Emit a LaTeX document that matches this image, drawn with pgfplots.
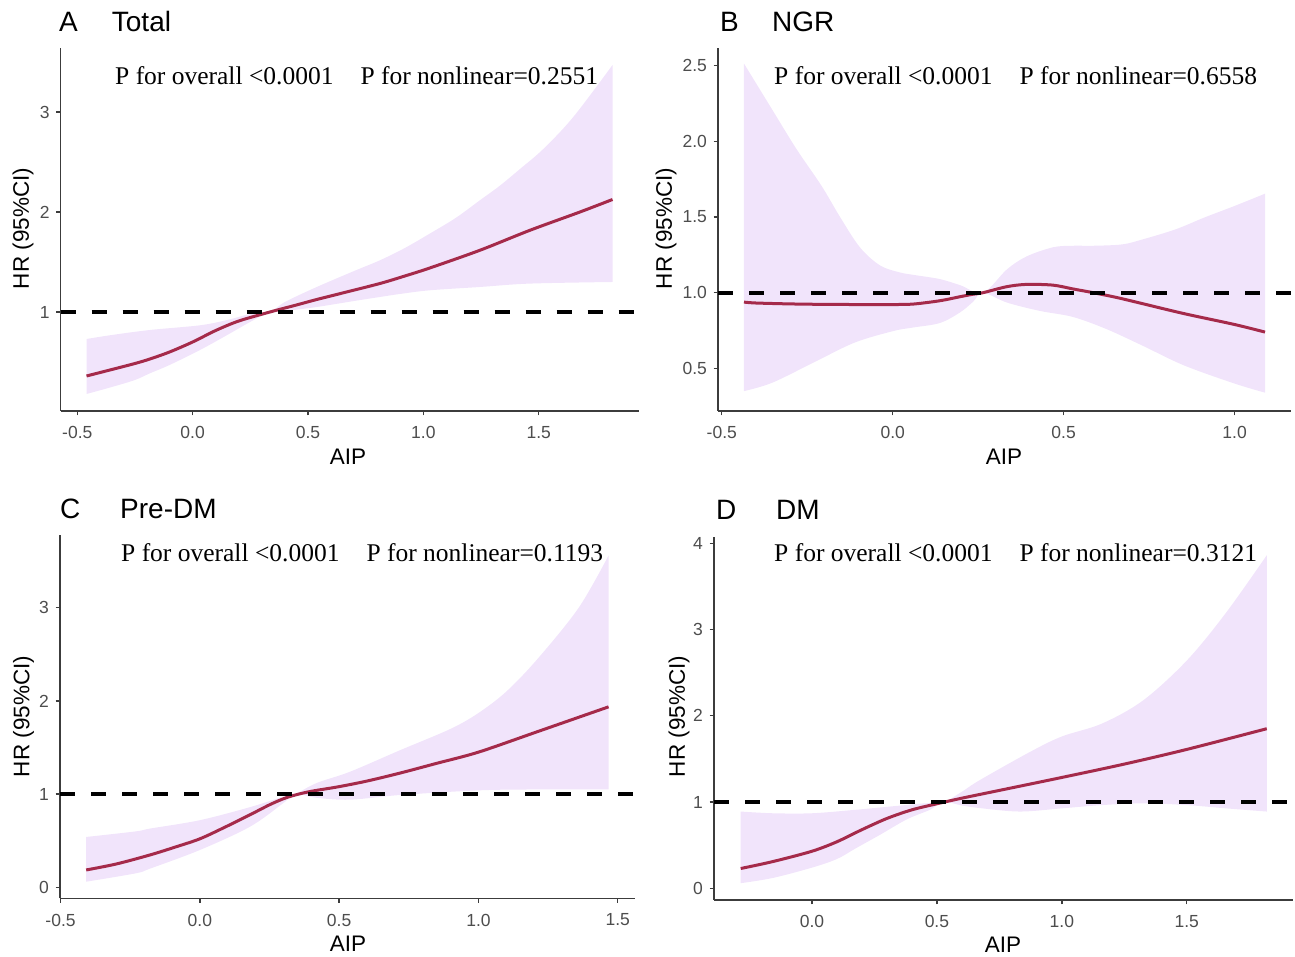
\documentclass[border=0pt]{standalone}
\usepackage{pgfplots}
\pgfplotsset{compat=1.18}
\usepgfplotslibrary{fillbetween}
\usepackage{fontspec}
\setmainfont{Liberation Sans}
\newfontfamily\serif{Liberation Serif}
\definecolor{band}{HTML}{F1E4FB}
\definecolor{curve}{HTML}{A52A4A}
\definecolor{axc}{HTML}{3C3C3C}
\definecolor{tickc}{HTML}{4D4D4D}
\pgfplotsset{rcs/.style={
  scale only axis, axis lines=left, axis line style={-, axc, line width=1.4pt},
  tick align=outside, major tick length=4.5pt, tick style={axc, line width=1.3pt},
  tick label style={font=\fontsize{17.5}{18}\selectfont, text=tickc, inner sep=0pt},
  xticklabel style={anchor=north, yshift=-10.8pt},
  yticklabel style={anchor=east, xshift=-6.4pt},
  enlargelimits=false, clip=true,
}}
\pgfplotsset{
  edge/.style={draw=none, smooth, tension=0.55},
  curvest/.style={curve, line width=3pt, smooth},
  hl/.style={black, line width=4pt, dash pattern=on 15pt off 16pt},
}
\newcommand{\ttl}[1]{\fontsize{28}{30}\selectfont #1}
\newcommand{\ptext}[2]{\serif\fontsize{25.5}{27}\selectfont P for overall <0.0001\hspace{27pt}P for nonlinear=#2}
\begin{document}
\begin{tikzpicture}
\path (0,0) rectangle (1295pt,957pt);
% Panel A
\begin{axis}[rcs, at={(60.7pt,546pt)}, anchor=south west, width=578.1pt, height=363pt,
  xmin=-0.572, xmax=1.934, ymin=0.01, ymax=3.64,
  xtick={-0.5,0,0.5,1,1.5}, xticklabels={-0.5,0.0,0.5,1.0,1.5},
  ytick={1,2,3}, yticklabels={1,2,3}]
\addplot[edge, name path=au] coordinates {
(-0.46,0.73) (-0.35,0.77) (-0.185,0.82) (0.032,0.867) (0.15,0.92) (0.249,0.98) (0.335,1.00) (0.40,1.10) (0.538,1.25) (0.70,1.41) (0.812,1.517) (0.92,1.64) (1.028,1.784) (1.14,1.94) (1.245,2.117) (1.33,2.26) (1.419,2.43) (1.52,2.63) (1.65,2.95) (1.82,3.47)};
\addplot[edge, name path=al] coordinates {
(-0.46,0.18) (-0.35,0.25) (-0.25,0.32) (-0.185,0.387) (-0.10,0.47) (0.032,0.62) (0.15,0.77) (0.249,0.90) (0.335,1.00) (0.40,1.01) (0.538,1.05) (0.70,1.11) (0.812,1.15) (0.898,1.18) (1.028,1.217) (1.245,1.25) (1.462,1.284) (1.82,1.30)};
\addplot[fill=band, draw=none] fill between[of=au and al];
\addplot[curvest] coordinates {
(-0.46,0.36) (-0.35,0.425) (-0.25,0.485) (-0.185,0.53) (-0.10,0.60) (0.0,0.70) (0.10,0.815) (0.20,0.91) (0.335,1.00) (0.45,1.07) (0.538,1.125) (0.65,1.19) (0.812,1.285) (0.92,1.36) (1.028,1.44) (1.245,1.617) (1.462,1.817) (1.679,2.0) (1.82,2.125)};
\addplot[hl] coordinates {(-0.572,1) (1.934,1)};
\end{axis}
% Panel B
\begin{axis}[rcs, at={(718pt,546pt)}, anchor=south west, width=573pt, height=363pt,
  xmin=-0.511, xmax=1.165, ymin=0.219, ymax=2.616,
  xtick={-0.5,0,0.5,1}, xticklabels={-0.5,0.0,0.5,1.0},
  ytick={0.5,1,1.5,2,2.5}, yticklabels={0.5,1.0,1.5,2.0,2.5}]
\addplot[edge, name path=bu] coordinates {
(-0.435,2.513) (-0.353,2.211) (-0.281,1.947) (-0.208,1.705) (-0.154,1.50) (-0.096,1.30) (-0.037,1.18) (0.021,1.134) (0.069,1.115) (0.138,1.09) (0.197,1.05) (0.264,1.0) (0.334,1.154) (0.392,1.24) (0.469,1.30) (0.527,1.31) (0.587,1.31) (0.671,1.319) (0.731,1.352) (0.828,1.419) (0.912,1.497) (1.0,1.573) (1.089,1.654)};
\addplot[edge, name path=bl] coordinates {
(-0.435,0.350) (-0.353,0.405) (-0.233,0.537) (-0.112,0.670) (0.002,0.747) (0.059,0.77) (0.138,0.80) (0.197,0.87) (0.235,0.94) (0.264,1.0) (0.334,0.935) (0.43,0.88) (0.527,0.84) (0.625,0.76) (0.731,0.65) (0.852,0.52) (1.0,0.40) (1.089,0.34)};
\addplot[fill=band, draw=none] fill between[of=bu and bl];
\addplot[curvest] coordinates {
(-0.435,0.938) (-0.40,0.932) (-0.30,0.926) (-0.20,0.923) (-0.10,0.922) (0.0,0.922) (0.06,0.925) (0.138,0.947) (0.20,0.975) (0.235,0.99) (0.264,1.0) (0.334,1.04) (0.392,1.055) (0.469,1.05) (0.527,1.025) (0.587,1.0) (0.656,0.968) (0.723,0.932) (0.852,0.862) (1.0,0.79) (1.089,0.74)};
\addplot[hl] coordinates {(-0.511,1) (1.165,1)};
\end{axis}
% Panel C
\begin{axis}[rcs, at={(60pt,58.7pt)}, anchor=south west, width=575pt, height=363.3pt,
  xmin=-0.502, xmax=1.562, ymin=-0.118, ymax=3.78,
  xtick={-0.5,0,0.5,1,1.5}, xticklabels={-0.5,0.0,0.5,1.0,1.5},
  ytick={0,1,2,3}, yticklabels={0,1,2,3}]
\addplot[edge, name path=cu] coordinates {
(-0.408,0.54) (-0.23,0.60) (-0.179,0.63) (0.0,0.72) (0.18,0.86) (0.298,0.97) (0.342,1.0) (0.42,1.12) (0.539,1.24) (0.718,1.47) (0.9,1.70) (1.0,1.87) (1.1,2.10) (1.212,2.45) (1.36,3.0) (1.467,3.56)};
\addplot[edge, name path=cl] coordinates {
(-0.408,0.06) (-0.23,0.15) (-0.179,0.20) (0.0,0.40) (0.18,0.65) (0.298,0.90) (0.342,1.0) (0.42,0.96) (0.539,0.94) (0.718,0.99) (1.0,1.04) (1.212,1.05) (1.467,1.05)};
\addplot[fill=band, draw=none] fill between[of=cu and cl];
\addplot[curvest] coordinates {
(-0.408,0.186) (-0.30,0.25) (-0.179,0.347) (-0.09,0.43) (0.0,0.52) (0.09,0.645) (0.18,0.778) (0.25,0.885) (0.30,0.95) (0.342,0.99) (0.40,1.03) (0.50,1.08) (0.60,1.14) (0.718,1.225) (0.85,1.33) (1.0,1.45) (1.212,1.67) (1.467,1.936)};
\addplot[hl] coordinates {(-0.502,1) (1.562,1)};
\end{axis}
% Panel D
\begin{axis}[rcs, at={(714pt,57pt)}, anchor=south west, width=579pt, height=363.3pt,
  xmin=-0.392, xmax=1.925, ymin=-0.135, ymax=4.075,
  xtick={0,0.5,1,1.5}, xticklabels={0.0,0.5,1.0,1.5},
  ytick={0,1,2,3,4}, yticklabels={0,1,2,3,4}]
\addplot[edge, name path=du] coordinates {
(-0.285,0.89) (-0.157,0.87) (0.0,0.87) (0.173,0.91) (0.338,0.955) (0.45,0.985) (0.527,1.0) (0.60,1.12) (0.672,1.255) (0.872,1.58) (1.0,1.76) (1.161,1.91) (1.326,2.18) (1.5,2.64) (1.656,3.19) (1.82,3.86)};
\addplot[edge, name path=dl] coordinates {
(-0.285,0.06) (-0.157,0.12) (0.0,0.24) (0.1,0.34) (0.173,0.46) (0.272,0.62) (0.38,0.80) (0.472,0.91) (0.527,1.0) (0.60,0.96) (0.672,0.93) (0.832,0.89) (1.0,0.927) (1.161,0.965) (1.326,0.985) (1.5,0.965) (1.656,0.927) (1.82,0.89)};
\addplot[fill=band, draw=none] fill between[of=du and dl];
\addplot[curvest] coordinates {
(-0.285,0.23) (-0.157,0.31) (0.0,0.43) (0.1,0.54) (0.2,0.68) (0.3,0.81) (0.4,0.91) (0.5,0.98) (0.6,1.045) (0.75,1.135) (1.0,1.285) (1.25,1.44) (1.5,1.61) (1.82,1.85)};
\addplot[hl] coordinates {(-0.392,1) (1.925,1)};
\end{axis}
% titles
\node[anchor=base west, inner sep=0pt] at (59pt,925pt) {\ttl{A}};
\node[anchor=base west, inner sep=0pt] at (111.7pt,925pt) {\ttl{Total}};
\node[anchor=base west, inner sep=0pt] at (720pt,925pt) {\ttl{B}};
\node[anchor=base west, inner sep=0pt] at (772pt,925pt) {\ttl{NGR}};
\node[anchor=base west, inner sep=0pt] at (60pt,438.7pt) {\ttl{C}};
\node[anchor=base west, inner sep=0pt] at (120pt,438.7pt) {\ttl{Pre-DM}};
\node[anchor=base west, inner sep=0pt] at (716pt,437.7pt) {\ttl{D}};
\node[anchor=base west, inner sep=0pt] at (776pt,437.7pt) {\ttl{DM}};
% P texts
\node[anchor=base west, inner sep=0pt] at (115pt,872.5pt) {\ptext{A}{0.2551}};
\node[anchor=base west, inner sep=0pt] at (774pt,872.5pt) {\ptext{B}{0.6558}};
\node[anchor=base west, inner sep=0pt] at (121pt,395pt) {\ptext{C}{0.1193}};
\node[anchor=base west, inner sep=0pt] at (774pt,395pt) {\ptext{D}{0.3121}};
% axis titles
\begin{scope}[every node/.style={inner sep=0pt, font=\fontsize{22.5}{24}\selectfont}]
\node[anchor=base] at (348pt,492pt) {AIP};
\node[anchor=base] at (1004pt,492pt) {AIP};
\node[anchor=base] at (348pt,5.5pt) {AIP};
\node[anchor=base] at (1003pt,4pt) {AIP};
\node[rotate=90] at (23pt,728.5pt) {HR (95\%CI)};
\node[rotate=90] at (666pt,728.5pt) {HR (95\%CI)};
\node[rotate=90] at (23.5pt,240.5pt) {HR (95\%CI)};
\node[rotate=90] at (679pt,240.5pt) {HR (95\%CI)};
\end{scope}
\end{tikzpicture}
\end{document}
